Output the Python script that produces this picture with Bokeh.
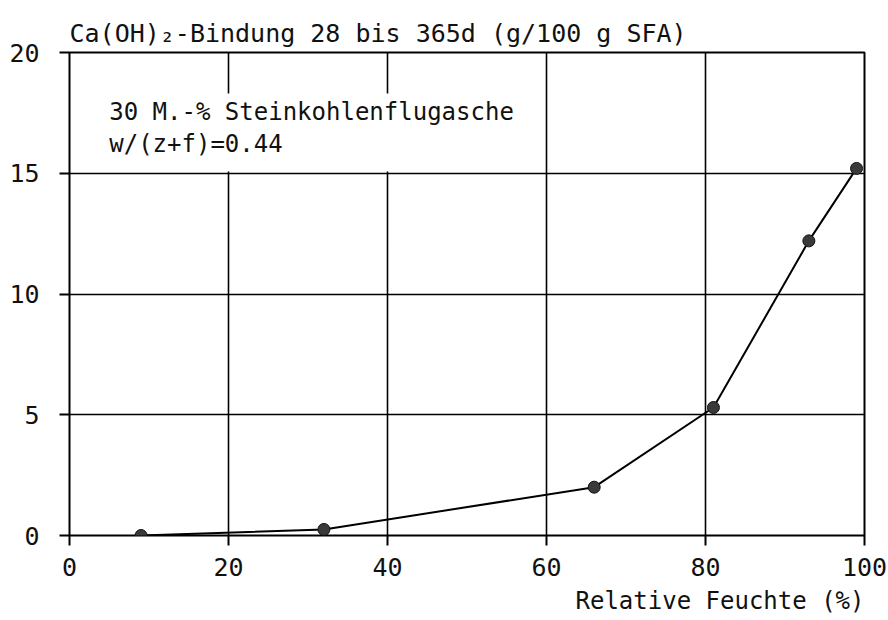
from bokeh.plotting import figure
from bokeh.models import Label, FixedTicker, Range1d, Title, BoxAnnotation
from bokeh.embed import file_html
from bokeh.resources import INLINE

# Relative humidity (%) and Ca(OH)2 binding, 28 to 365 days (g/100 g fly ash)
humidity = [9, 32, 66, 81, 93, 99]
binding = [0.0, 0.25, 2.0, 5.3, 12.2, 15.2]

x_ticks = [0, 20, 40, 60, 80, 100]
y_ticks = [0, 5, 10, 15, 20]

FONT = "DejaVu Sans Mono"
INK = "#111111"

p = figure(
    width=888, height=620,
    output_backend="svg", toolbar_location=None,
    x_range=Range1d(0, 100), y_range=Range1d(0, 20),
    min_border_left=69, min_border_right=24,
    min_border_top=52, min_border_bottom=85,
)
p.background_fill_color = "white"
p.border_fill_color = "white"
p.outline_line_color = "black"
p.outline_line_width = 2

for ax, ticks in ((p.xaxis, x_ticks), (p.yaxis, y_ticks)):
    ax.ticker = FixedTicker(ticks=ticks)
    ax.axis_line_color = None
    ax.major_tick_line_color = "black"
    ax.major_tick_line_width = 2
    ax.major_tick_out = 10
    ax.major_tick_in = 0
    ax.minor_tick_line_color = None
    ax.major_label_text_font = FONT
    ax.major_label_text_font_size = "25px"
    ax.major_label_text_color = INK

p.xaxis.major_label_standoff = 12
p.yaxis.major_label_standoff = 20

p.grid.grid_line_color = "black"
p.grid.grid_line_width = 1.6
p.grid.grid_line_alpha = 1.0

p.line(humidity, binding, line_color="black", line_width=2)
p.scatter(humidity, binding, size=12, fill_color="#3a3a3a",
          line_color=INK, line_width=1)

# chart heading above the frame, axis caption bottom right
p.add_layout(Title(text="Ca(OH)₂-Bindung 28 bis 365d (g/100 g SFA)",
                   align="left", text_font=FONT, text_font_size="25px",
                   text_font_style="normal", text_color=INK,
                   standoff=10), "above")
p.add_layout(Title(text="Relative Feuchte (%)", align="right",
                   text_font=FONT, text_font_size="24px",
                   text_font_style="normal", text_color=INK,
                   standoff=12), "below")

# white panel behind the mixture description
p.add_layout(BoxAnnotation(left=3.3, right=54.5, top=18.3, bottom=15.07,
                           fill_color="white", fill_alpha=1.0,
                           line_color=None))
note1 = Label(x=5.0, y=17.52, text="30 M.-% Steinkohlenflugasche",
              text_font=FONT, text_font_size="24px", text_color=INK,
              text_align="left", text_baseline="alphabetic")
note2 = Label(x=5.0, y=16.2, text="w/(z+f)=0.44",
              text_font=FONT, text_font_size="24px", text_color=INK,
              text_align="left", text_baseline="alphabetic")
p.add_layout(note1)
p.add_layout(note2)

open("out.html", "w").write(file_html(p, INLINE))
